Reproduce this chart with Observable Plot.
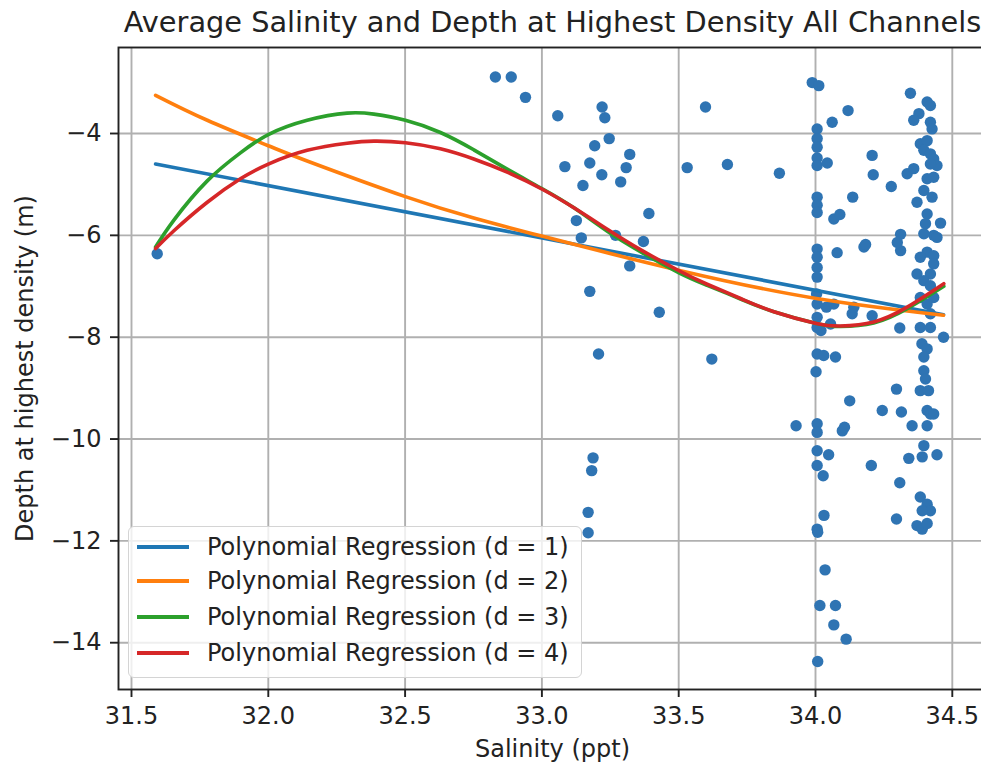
<!DOCTYPE html>
<html>
<head>
<meta charset="utf-8">
<script src="https://cdn.jsdelivr.net/npm/d3@7"></script>
<script src="https://cdn.jsdelivr.net/npm/@observablehq/plot@0.6"></script>
<style>
  html, body { margin: 0; padding: 0; background: #fff; overflow: hidden; }
  #wrap { position: relative; width: 988px; height: 766px; font-family: "DejaVu Sans", sans-serif; }
  #legend { position: absolute; left: 128px; top: 526px; width: 454px; height: 152px; box-sizing: border-box;
    border: 1.5px solid #d4d4d4; border-radius: 6px; background: rgba(255,255,255,0.8); }
  .row { position: absolute; left: 0; height: 30px; }
  .sw { position: absolute; left: 8px; width: 52px; height: 3.6px; }
  .lab { position: absolute; left: 78px; white-space: nowrap; font-size: 24px; color: #222; line-height: 30px; }
</style>
</head>
<body>
<div id="wrap"></div>
<script>
// ---- data ----
const title = "Average Salinity and Depth at Highest Density All Channels";
const xLabel = "Salinity (ppt)";
const yLabel = "Depth at highest density (m)";
const xTicks = [31.5, 32.0, 32.5, 33.0, 33.5, 34.0, 34.5];
const yTicks = [-14, -12, -10, -8, -6, -4];

const salinity = [
  31.594, 32.830, 32.888, 32.940, 33.058, 33.220, 33.230, 33.246, 33.193, 33.321,
  33.084, 33.175, 33.308, 33.219, 33.288, 33.150, 33.531, 33.391, 33.126, 33.144,
  33.269, 33.371, 33.321, 33.175, 33.429, 33.207, 33.187, 33.182, 33.169, 33.169,
  33.598, 33.678, 33.868, 33.988, 34.012, 34.006, 34.006, 34.006, 34.006, 34.006,
  34.043, 34.061, 34.119, 34.207, 34.211, 34.277, 34.136, 34.006, 34.006, 34.006,
  34.067, 34.089, 34.177, 34.183, 34.079, 34.006, 34.006, 34.006, 34.006, 34.004,
  34.006, 34.040, 34.006, 34.006, 34.020, 34.067, 34.134, 34.140, 34.207, 34.055,
  34.308, 34.311, 34.311, 34.299, 34.335, 34.359, 34.347, 34.408, 34.420, 34.378,
  34.359, 34.420, 34.426, 34.383, 34.408, 34.396, 34.420, 34.432, 34.444, 34.420,
  34.408, 34.432, 34.396, 34.426, 34.371, 34.408, 34.402, 34.457, 34.432, 34.396,
  34.444, 34.408, 34.432, 34.383, 34.432, 34.371, 34.420, 34.396, 34.420, 34.432,
  34.383, 34.408, 34.420, 34.383, 34.420, 34.468, 33.621, 34.006, 34.030, 34.073,
  34.002, 34.389, 34.408, 34.396, 34.396, 34.402, 34.383, 34.413, 34.296, 34.125,
  34.244, 34.314, 34.353, 34.408, 34.420, 34.432, 34.408, 33.929, 34.006, 34.006,
  34.098, 34.106, 34.006, 34.048, 34.006, 34.028, 34.204, 34.341, 34.396, 34.390,
  34.444, 34.308, 34.383, 34.408, 34.420, 34.390, 34.296, 34.371, 34.390, 34.408,
  34.031, 34.006, 34.008, 34.035, 34.016, 34.073, 34.067, 34.112, 34.008
];
const depth = [
  -6.36, -2.89, -2.89, -3.29, -3.65, -3.48, -3.69, -4.10, -4.24, -4.41,
  -4.65, -4.58, -4.67, -4.81, -4.95, -5.02, -4.67, -5.57, -5.71, -6.05,
  -6.00, -6.12, -6.60, -7.10, -7.51, -8.33, -10.37, -10.62, -11.44, -11.84,
  -3.48, -4.61, -4.78, -3.00, -3.06, -3.91, -4.10, -4.27, -4.48, -4.63,
  -4.58, -3.78, -3.55, -4.43, -4.81, -5.04, -5.25, -5.25, -5.41, -5.55,
  -5.68, -5.59, -6.23, -6.18, -6.34, -6.27, -6.43, -6.63, -6.82, -7.15,
  -7.35, -7.41, -7.61, -7.81, -7.87, -7.35, -7.54, -7.41, -7.58, -7.74,
  -7.82, -5.98, -6.30, -6.14, -4.79, -4.69, -3.21, -3.38, -3.45, -3.61,
  -3.74, -3.78, -3.91, -4.20, -4.14, -4.33, -4.40, -4.50, -4.63, -4.60,
  -4.89, -4.86, -5.12, -5.25, -5.35, -5.58, -5.77, -5.76, -6.00, -5.97,
  -6.04, -6.33, -6.40, -6.43, -6.56, -6.76, -6.76, -6.89, -6.99, -7.22,
  -7.22, -7.35, -7.54, -7.81, -7.81, -8.00, -8.43, -8.33, -8.36, -8.39,
  -8.68, -8.13, -8.23, -8.39, -8.66, -8.82, -9.05, -9.05, -9.02, -9.25,
  -9.44, -9.47, -9.74, -9.44, -9.51, -9.51, -9.74, -9.74, -9.70, -9.87,
  -9.84, -9.77, -10.23, -10.31, -10.52, -10.72, -10.52, -10.38, -10.13, -10.35,
  -10.31, -10.86, -11.14, -11.28, -11.41, -11.41, -11.57, -11.70, -11.77, -11.66,
  -11.50, -11.77, -11.83, -12.57, -13.27, -13.27, -13.65, -13.93, -14.37
];

// fitted curves
const fit1X = [31.588, 34.468];
const fit1Y = [-4.60, -7.56];
const fit2X = [31.588, 31.777, 32.0, 32.142, 32.501, 32.751, 33.003, 33.503, 34.003, 34.468];
const fit2Y = [-3.25, -3.74, -4.24, -4.54, -5.24, -5.66, -6.02, -6.69, -7.24, -7.57];
const fit3X = [31.588, 31.655, 31.777, 31.898, 32.000, 32.142, 32.288, 32.386, 32.501, 32.629, 32.751, 32.873, 33.003,
               33.117, 33.239, 33.360, 33.503, 33.604, 33.726, 33.848, 34.003, 34.091, 34.213, 34.335, 34.469];
const fit3Y = [-6.23, -5.70, -4.93, -4.38, -4.02, -3.74, -3.60, -3.62, -3.74, -3.98, -4.32, -4.70, -5.09,
               -5.46, -5.92, -6.32, -6.74, -6.98, -7.25, -7.50, -7.73, -7.79, -7.72, -7.44, -7.00];
const fit4X = [31.588, 31.655, 31.777, 31.898, 32.000, 32.142, 32.288, 32.386, 32.501, 32.629, 32.751, 32.873, 33.003,
               33.117, 33.239, 33.360, 33.503, 33.604, 33.726, 33.848, 34.003, 34.091, 34.213, 34.335, 34.469];
const fit4Y = [-6.26, -5.91, -5.35, -4.89, -4.60, -4.33, -4.19, -4.15, -4.18, -4.30, -4.50, -4.76, -5.10,
               -5.46, -5.88, -6.28, -6.70, -6.96, -7.24, -7.50, -7.73, -7.78, -7.70, -7.41, -6.95];

const seriesNames = ["Polynomial Regression (d = 1)", "Polynomial Regression (d = 2)",
                     "Polynomial Regression (d = 3)", "Polynomial Regression (d = 4)"];
const seriesColors = ["#1f77b4", "#ff7f0e", "#2ca02c", "#d62728"];

// ---- build ----
const points = salinity.map((s, i) => ({s, d: depth[i]}));
const fits = [[fit1X, fit1Y], [fit2X, fit2Y], [fit3X, fit3Y], [fit4X, fit4Y]]
  .map(([xs, ys]) => xs.map((x, i) => ({x, y: ys[i]})));

// the figure is slightly wider than the window: its right spine falls just outside, as in the reference
const font = "DejaVu Sans";
const chart = Plot.plot({
  width: 988,
  height: 766,
  marginLeft: 118,
  marginRight: 2,
  marginTop: 47,
  marginBottom: 77,
  style: {fontFamily: font, color: "#222", background: "#fff"},
  x: {domain: [31.4525, 34.625]},
  y: {domain: [-14.919, -2.311]},
  marks: [
    Plot.gridX(xTicks, {stroke: "#b0b0b0", strokeOpacity: 1, strokeWidth: 1.9}),
    Plot.gridY(yTicks, {stroke: "#b0b0b0", strokeOpacity: 1, strokeWidth: 1.9}),
    Plot.dot(points, {x: "s", y: "d", r: 5.7, fill: "#2f74b3", stroke: null}),
    ...fits.map((f, i) => Plot.line(f, {x: "x", y: "y", stroke: seriesColors[i], strokeWidth: 3.6,
      curve: i === 0 ? "linear" : "natural"})),
    Plot.axisX(xTicks, {tickSize: 8, tickPadding: 9, fontSize: 24, label: null,
      tickFormat: d3.format(".1f"), strokeWidth: 1.9}),
    Plot.axisY(yTicks, {tickSize: 8, tickPadding: 9, fontSize: 24, label: null,
      tickFormat: d3.format("d"), strokeWidth: 1.9}),
    Plot.frame({stroke: "#222", strokeWidth: 1.9}),
    Plot.text([title], {frameAnchor: "top", lineAnchor: "middle", dy: -25, fontSize: 28.8, fill: "#222"}),
    Plot.text([xLabel], {frameAnchor: "bottom", lineAnchor: "middle", dy: 60, fontSize: 24, fill: "#222"}),
    Plot.text([yLabel], {frameAnchor: "left", textAnchor: "middle", lineAnchor: "middle", dx: -93, rotate: -90, fontSize: 24, fill: "#222"})
  ]
});

const wrap = document.getElementById("wrap");
wrap.appendChild(chart);

const legend = document.createElement("div");
legend.id = "legend";
const rowTops = [5, 39, 75, 111];
seriesNames.forEach((name, i) => {
  const row = document.createElement("div");
  row.className = "row";
  row.style.top = rowTops[i] + "px";
  const sw = document.createElement("div");
  sw.className = "sw";
  sw.style.background = seriesColors[i];
  sw.style.top = "13px";
  const lab = document.createElement("div");
  lab.className = "lab";
  lab.textContent = name;
  row.appendChild(sw);
  row.appendChild(lab);
  legend.appendChild(row);
});
wrap.appendChild(legend);
</script>
</body>
</html>
